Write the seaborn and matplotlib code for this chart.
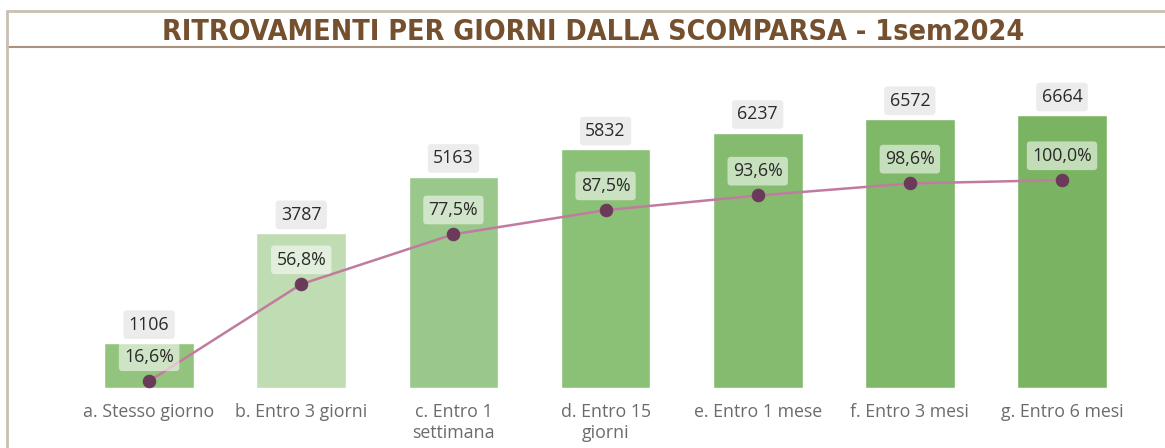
import numpy as np
import pandas as pd
import matplotlib.pyplot as plt
from matplotlib.lines import Line2D
import seaborn as sns

# Data
categories = ['a. Stesso giorno', 'b. Entro 3 giorni', 'c. Entro 1\nsettimana',
              'd. Entro 15\ngiorni', 'e. Entro 1 mese', 'f. Entro 3 mesi', 'g. Entro 6 mesi']
counts = [1106, 3787, 5163, 5832, 6237, 6572, 6664]
pct = [16.6, 56.8, 77.5, 87.5, 93.6, 98.6, 100.0]
pct_labels = ['16,6%', '56,8%', '77,5%', '87,5%', '93,6%', '98,6%', '100,0%']
bar_colors = ['#93c47d', '#c0dcb2', '#9ac78a', '#8bc077', '#85bb6f', '#80b86a', '#7ab463']

df = pd.DataFrame({'cat': categories, 'count': counts, 'pct': pct})

sns.set_theme(style='white')
plt.rcParams['font.family'] = ['Open Sans', 'DejaVu Sans']

fig = plt.figure(figsize=(11.65, 4.48), dpi=100)
ax = fig.add_axes([0.0627, 0.1339, 0.9142, 0.7433])

sns.barplot(data=df, x='cat', y='count', hue='cat', palette=bar_colors,
            legend=False, width=0.59, saturation=1, ax=ax)
ax.set_ylim(0, 8130)
ax.set_xlim(-0.5, 6.5)
ax.set_xlabel('')
ax.set_ylabel('')
ax.set_yticks([])
ax.tick_params(axis='x', length=0, pad=11, labelsize=12.8, labelcolor='#6b6b6b')
sns.despine(ax=ax, left=True, bottom=True)

for i, v in enumerate(counts):
    ax.annotate(str(v), (i, v), xytext=(0, 13), textcoords='offset points',
                ha='center', va='center', fontsize=12.8, color='#2a2a2a',
                bbox=dict(boxstyle='round,pad=0.3,rounding_size=0.2', fc='#ececec', ec='none'))

ax2 = ax.twinx()
sns.lineplot(x=np.arange(len(pct)), y=pct, color='#c27ba0', linewidth=1.8,
             marker='o', markersize=9, markerfacecolor='#6b3a5a',
             markeredgecolor='#6b3a5a', ax=ax2)
ax2.set_ylim(13.7, 151.9)
ax2.set_yticks([])
ax2.set_ylabel('')
sns.despine(ax=ax2, left=True, bottom=True, right=True)

for i, v in enumerate(pct):
    ax2.annotate(pct_labels[i], (i, v), xytext=(0, 17.5), textcoords='offset points',
                 ha='center', va='center', fontsize=12.8, color='#2a2a2a',
                 bbox=dict(boxstyle='round,pad=0.3,rounding_size=0.2', fc='white',
                           alpha=0.55, ec='none'))

# frame and title band
fig.add_artist(Line2D([0.006, 1], [0.9754, 0.9754], color='#cbbfb3', lw=2))
fig.add_artist(Line2D([0.006, 1], [0.8951, 0.8951], color='#a89282', lw=1.5))
fig.add_artist(Line2D([0.006, 0.006], [0, 0.9754], color='#cbbfb3', lw=2))
fig.text(0.509, 0.929, 'RITROVAMENTI PER GIORNI DALLA SCOMPARSA - 1sem2024',
         ha='center', va='center', fontsize=20.5, fontweight='bold', color='#75502f',
         family=['DejaVu Sans'], fontstretch='condensed')

fig.savefig('out.png', dpi=100)
